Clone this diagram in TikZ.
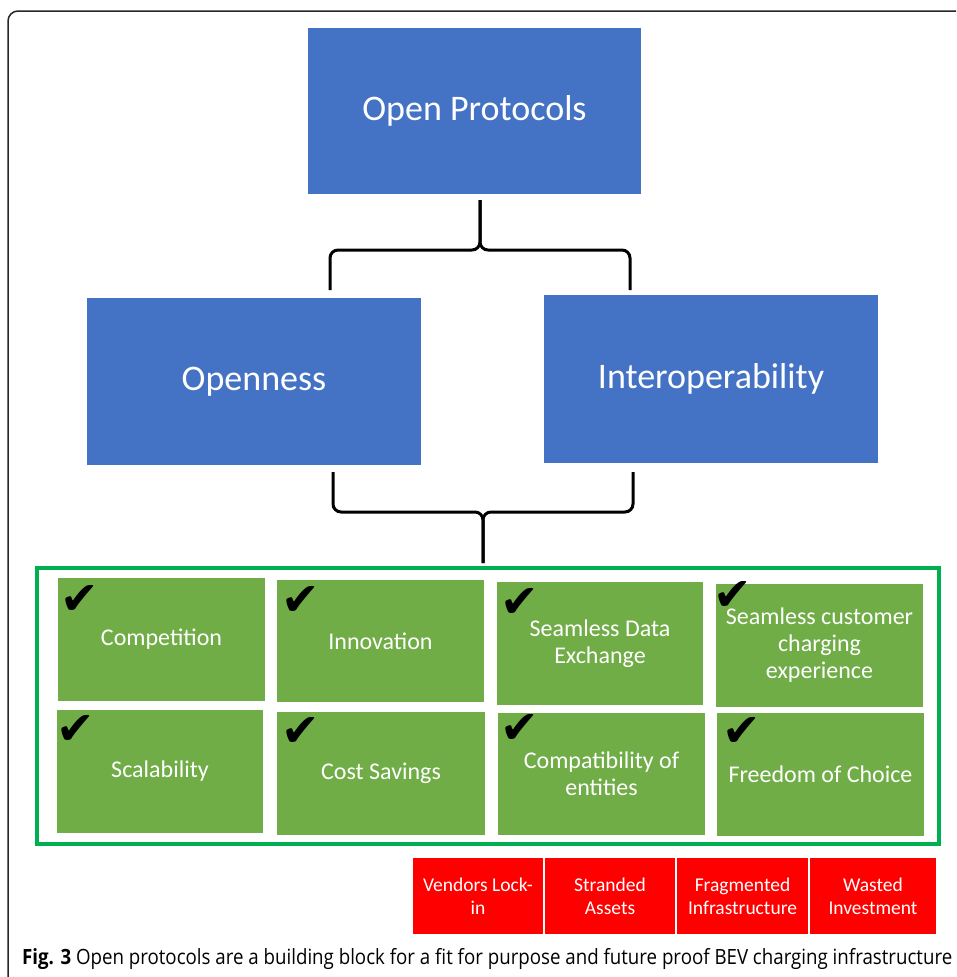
\documentclass[tikz,border=0pt]{standalone}
\usepackage{fontspec}
\setmainfont{Carlito}
\newfontfamily\tickfont{DejaVu Sans}
\newfontfamily\capfont[FakeStretch=0.89]{Open Sans}

\definecolor{boxblue}{HTML}{4472C4}
\definecolor{boxgreen}{HTML}{70AD47}
\definecolor{framegreen}{HTML}{00B050}
\definecolor{boxred}{HTML}{FF0000}

\tikzset{
  bluebox/.style={fill=boxblue, text=white, inner sep=0pt,
    font=\fontsize{36}{40}\selectfont},
  greenbox/.style={fill=boxgreen, text=white, inner sep=0pt, align=center,
    font=\fontsize{24}{27}\selectfont},
  redbox/.style={fill=boxred, draw=white, line width=1.5pt, text=white,
    inner sep=0pt, align=center, minimum height=77pt,
    font=\fontsize{19.5}{23}\selectfont},
  tick/.style={inner sep=0pt, font=\tickfont\fontsize{46}{46}\selectfont},
  bracket/.style={black, line width=3pt, rounded corners=8pt},
}

\begin{document}
\begin{tikzpicture}[x=1pt, y=-1pt]
	  \useasboundingbox (0,0) rectangle (956,977);
	  \fill[white] (0,0) rectangle (956,977);

	  % outer frame
	  \draw[black!85, line width=1.5pt, rounded corners=10pt] (8,977) -- (8,11) -- (956,11);

	  % top level
	  \node[bluebox, minimum width=333pt, minimum height=166pt] (protocols) at (474.5,111) {Open Protocols};

	  \node[bluebox, minimum width=334pt, minimum height=167pt] (openness) at (254,381.5) {Openness};
	  \node[bluebox, minimum width=334pt, minimum height=168pt] (interop) at (711,379) {Interoperability};

	  % brace under Open Protocols
	  \coordinate (topstem) at (480,200);
	  \coordinate (topleft) at (330,290);
	  \coordinate (topright) at (630,290);
	  \draw[bracket] (topleft) |- (480,250) -- (topstem);
	  \draw[bracket] (topright) |- (480,250) -- (topstem);

	  % brace under Openness and Interoperability
	  \coordinate (botstem) at (483,563);
	  \coordinate (botleft) at (333,472);
	  \coordinate (botright) at (633,472);
	  \draw[bracket] (botleft) |- (483,512) -- (botstem);
	  \draw[bracket] (botright) |- (483,512) -- (botstem);

	  % benefits
	  \draw[framegreen, line width=4pt] (37,568) rectangle (939,844);

	  \node[greenbox, minimum width=207pt, minimum height=123pt] (comp) at (161.5,639.5) {Competition};
	  \node[greenbox, minimum width=207pt, minimum height=122pt] (innov) at (380.5,641) {Innovation};
	  \node[greenbox, minimum width=206pt, minimum height=123pt] (sdata) at (600,643.5) {Seamless Data\\Exchange};
	  \node[greenbox, minimum width=207pt, minimum height=123pt] (scust) at (819.5,645.5) {Seamless customer\\charging\\experience};

	  \node[greenbox, minimum width=206pt, minimum height=123pt] (scal) at (160,771.5) {Scalability};
	  \node[greenbox, minimum width=208pt, minimum height=123pt] (cost) at (381,773.5) {Cost Savings};
	  \node[greenbox, minimum width=207pt, minimum height=122pt] (compat) at (601.5,774) {Compatibility of\\entities};
	  \node[greenbox, minimum width=207pt, minimum height=123pt] (freedom) at (820.5,774.5) {Freedom of Choice};

	  \foreach \b/\dx/\dy in {comp/22/22, innov/24/21.5, sdata/23/21, scust/17/12,
	      scal/19/20, cost/24/20, compat/22/16, freedom/25/19.5} {
	    \node[tick] at ([shift={(\dx,\dy)}]\b.north west) {✔};
	  }

	  % risks
	  \node[redbox, minimum width=132pt] (lockin) at (478,896) {Vendors Lock-\\in};
	  \node[redbox, minimum width=132pt] (stranded) at (610,896) {Stranded\\Assets};
	  \node[redbox, minimum width=133pt] (fragment) at (742.5,896) {Fragmented\\Infrastructure};
	  \node[redbox, minimum width=128pt] (wasted) at (873,896) {Wasted\\Investment};

	  % caption
	  \node[anchor=base west, inner sep=0pt, font=\capfont\fontsize{21}{24}\selectfont] (caption) at (22,964)
	    {\textbf{Fig. 3} Open protocols are a building block for a fit for purpose and future proof BEV charging infrastructure};
	\end{tikzpicture}
\end{document}
